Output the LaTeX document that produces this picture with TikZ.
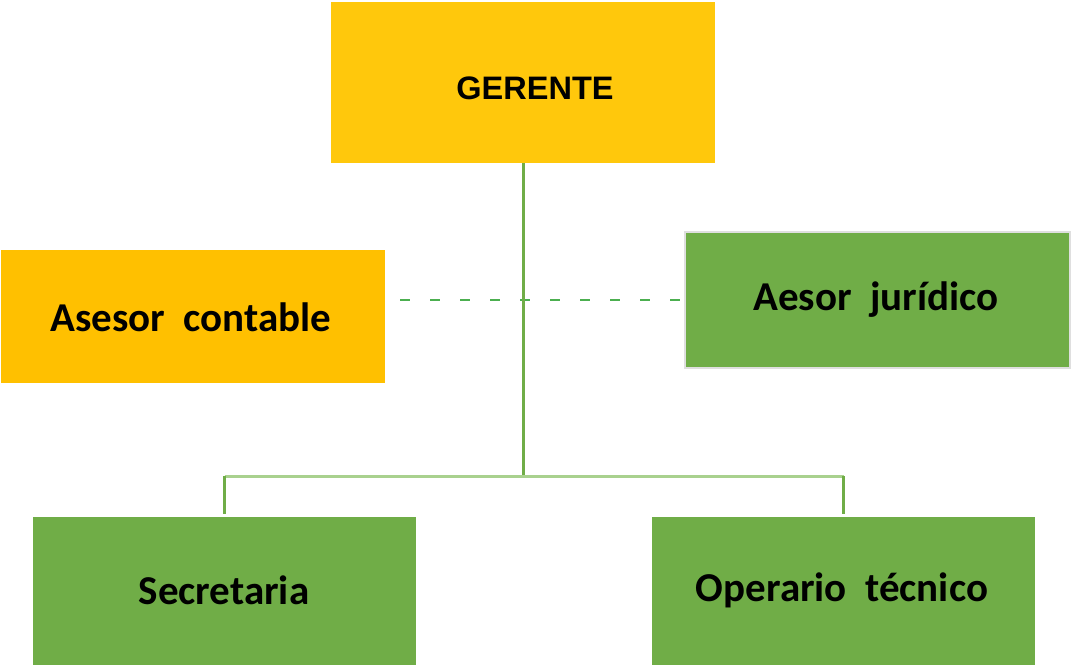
\documentclass[tikz,border=0pt]{standalone}
\usepackage{fontspec}
\setmainfont{Carlito}
\newfontfamily\arialfont{Liberation Sans}
\definecolor{gold}{HTML}{FFC80C}
\definecolor{orng}{HTML}{FFC000}
\definecolor{grn}{HTML}{70AD47}
\definecolor{lgrn}{HTML}{A9D18E}
\definecolor{dgrn}{HTML}{4CAF50}
\tikzset{
  box/.style={draw=none, anchor=north west, inner sep=0pt},
  lbl/.style={font=\fontsize{41}{43}\selectfont\bfseries, text=black},
  conn/.style={draw=grn, line width=3pt},
  hconn/.style={draw=lgrn, line width=3pt},
  dconn/.style={draw=dgrn, line width=2pt, dash pattern=on 10pt off 20pt, dash phase=15pt},
}
\begin{document}
\begin{tikzpicture}[x=1pt,y=1pt]
\useasboundingbox (0,0) rectangle (1071,665);
% boxes (y flipped: tikz y = 665 - image y)
\fill[gold] (331,663) rectangle (715,502);
\node[box, minimum width=384pt, minimum height=161pt] (ger) at (331,663) {};
\fill[orng] (1,415) rectangle (385,282);
\node[box, minimum width=384pt, minimum height=133pt] (ac) at (1,415) {};
\fill[grn, draw=gray!25, line width=1.5pt] (685,433) rectangle (1070,297);
\node[box, minimum width=385pt, minimum height=136pt] (aj) at (685,433) {};
\fill[grn] (33,148) rectangle (416,0);
\node[box, minimum width=383pt, minimum height=148pt] (sec) at (33,148) {};
\fill[grn] (652,148) rectangle (1035,0);
\node[box, minimum width=383pt, minimum height=148pt] (op) at (652,148) {};
% labels
\node[font=\arialfont\fontsize{32.5}{34}\selectfont\bfseries] (tger) at (535,577) {GERENTE};
\node[lbl] (tac) at (191,348) {Asesor\ \ contable};
\node[lbl] (taj) at (876,365) {Aesor\ \ jurídico};
\node[lbl] (tsec) at (224,75) {Secretaria};
\node[lbl] (top) at (842,75) {Operario\ \ técnico};
% connectors
\coordinate (mid) at (ger.south |- 0,189);
\draw[dconn] (ac.east |- aj.west) -- (aj.west);
\draw[conn] (ger.south) -- (mid);
\draw[hconn] (sec.north |- mid) -- (op.north |- mid);
\draw[conn] (sec.north |- mid) -- ([yshift=3pt]sec.north);
\draw[conn] (op.north |- mid) -- ([yshift=3pt]op.north);
\end{tikzpicture}
\end{document}
